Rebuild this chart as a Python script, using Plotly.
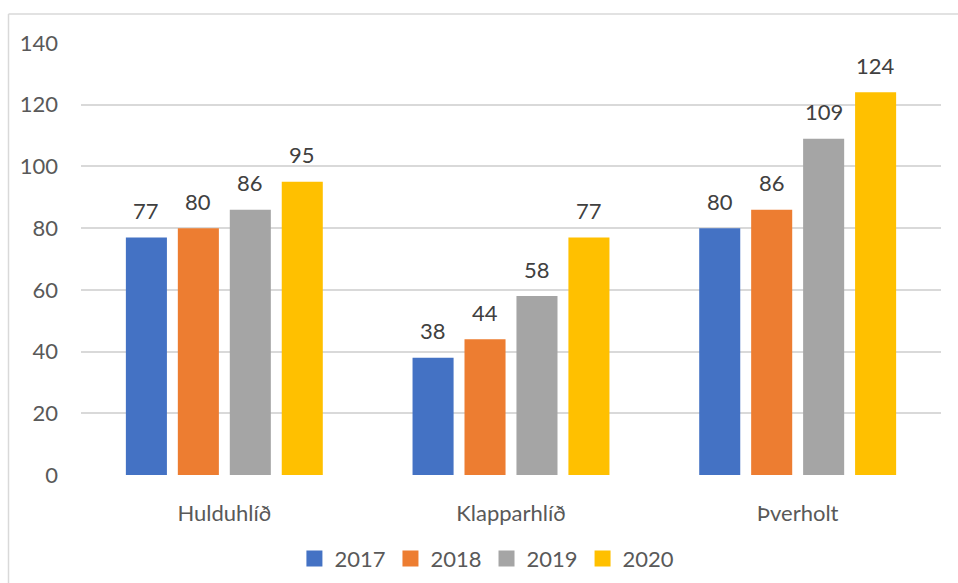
import plotly.graph_objects as go

categories = ["Hulduhlíð", "Klapparhlíð", "Þverholt"]
years = ["2017", "2018", "2019", "2020"]
values_2017 = [77, 38, 80]
values_2018 = [80, 44, 86]
values_2019 = [86, 58, 109]
values_2020 = [95, 77, 124]
series = [values_2017, values_2018, values_2019, values_2020]
colors = ["#4472C4", "#ED7D31", "#A5A5A5", "#FFC000"]
y_ticks = [0, 20, 40, 60, 80, 100, 120, 140]

FONT = "Lato"
BARGAP = 0.275
BARGROUPGAP = 0.21

x_idx = list(range(len(categories)))

fig = go.Figure()
for name, vals, col in zip(years, series, colors):
    fig.add_trace(go.Bar(x=x_idx, y=vals, name=name, showlegend=False,
                         marker=dict(color=col, line=dict(width=0))))
# legend entries with larger square swatches
for name, col in zip(years, colors):
    fig.add_trace(go.Scatter(x=[None], y=[None], mode="markers", name=name,
                             marker=dict(symbol="square", size=16, color=col)))

slot = (1 - BARGAP) / len(years)
annotations = []
for j, vals in enumerate(series):
    for i, v in enumerate(vals):
        annotations.append(dict(
            x=i + (j - (len(years) - 1) / 2) * slot, y=v, xref="x", yref="y",
            text=str(v), showarrow=False, yanchor="middle", yshift=27,
            font=dict(family=FONT, size=22, color="#404040")))

border = dict(color="#D9D9D9", width=1.5)
fig.update_layout(
    width=958, height=583,
    margin=dict(l=81, r=17, t=43, b=108, autoexpand=False),
    paper_bgcolor="white", plot_bgcolor="white",
    barmode="group", bargap=BARGAP, bargroupgap=BARGROUPGAP,
    font=dict(family=FONT, size=22, color="#595959"),
    showlegend=True,
    legend=dict(orientation="h", x=0.472, xanchor="center", y=-0.194, yanchor="middle",
                font=dict(family=FONT, size=22, color="#595959"),
                itemsizing="trace", traceorder="normal"),
    annotations=annotations,
    shapes=[
        dict(type="line", xref="paper", yref="paper", x0=-0.0843, x1=1.1, y0=1.0671, y1=1.0671,
             line=border, layer="below"),
        dict(type="line", xref="paper", yref="paper", x0=-0.0843, x1=-0.0843, y0=-0.3, y1=1.0671,
             line=border, layer="below"),
    ],
)
fig.update_xaxes(range=[-0.5, 2.5], tickvals=x_idx, ticktext=categories, showgrid=False,
                 zeroline=False, showline=False, ticks="", ticklabelstandoff=23, automargin=False,
                 tickfont=dict(family=FONT, size=22, color="#595959"))
fig.update_yaxes(range=[0, 140], tickvals=y_ticks, showgrid=True, gridcolor="#D9D9D9", gridwidth=1.5,
                 zeroline=False, showline=False, ticks="", ticklabelstandoff=22, automargin=False,
                 tickfont=dict(family=FONT, size=22, color="#595959"))

fig.write_html("out.html", config={"displayModeBar": False},
               post_script="document.body.style.margin='0';document.body.style.overflow='hidden';")
